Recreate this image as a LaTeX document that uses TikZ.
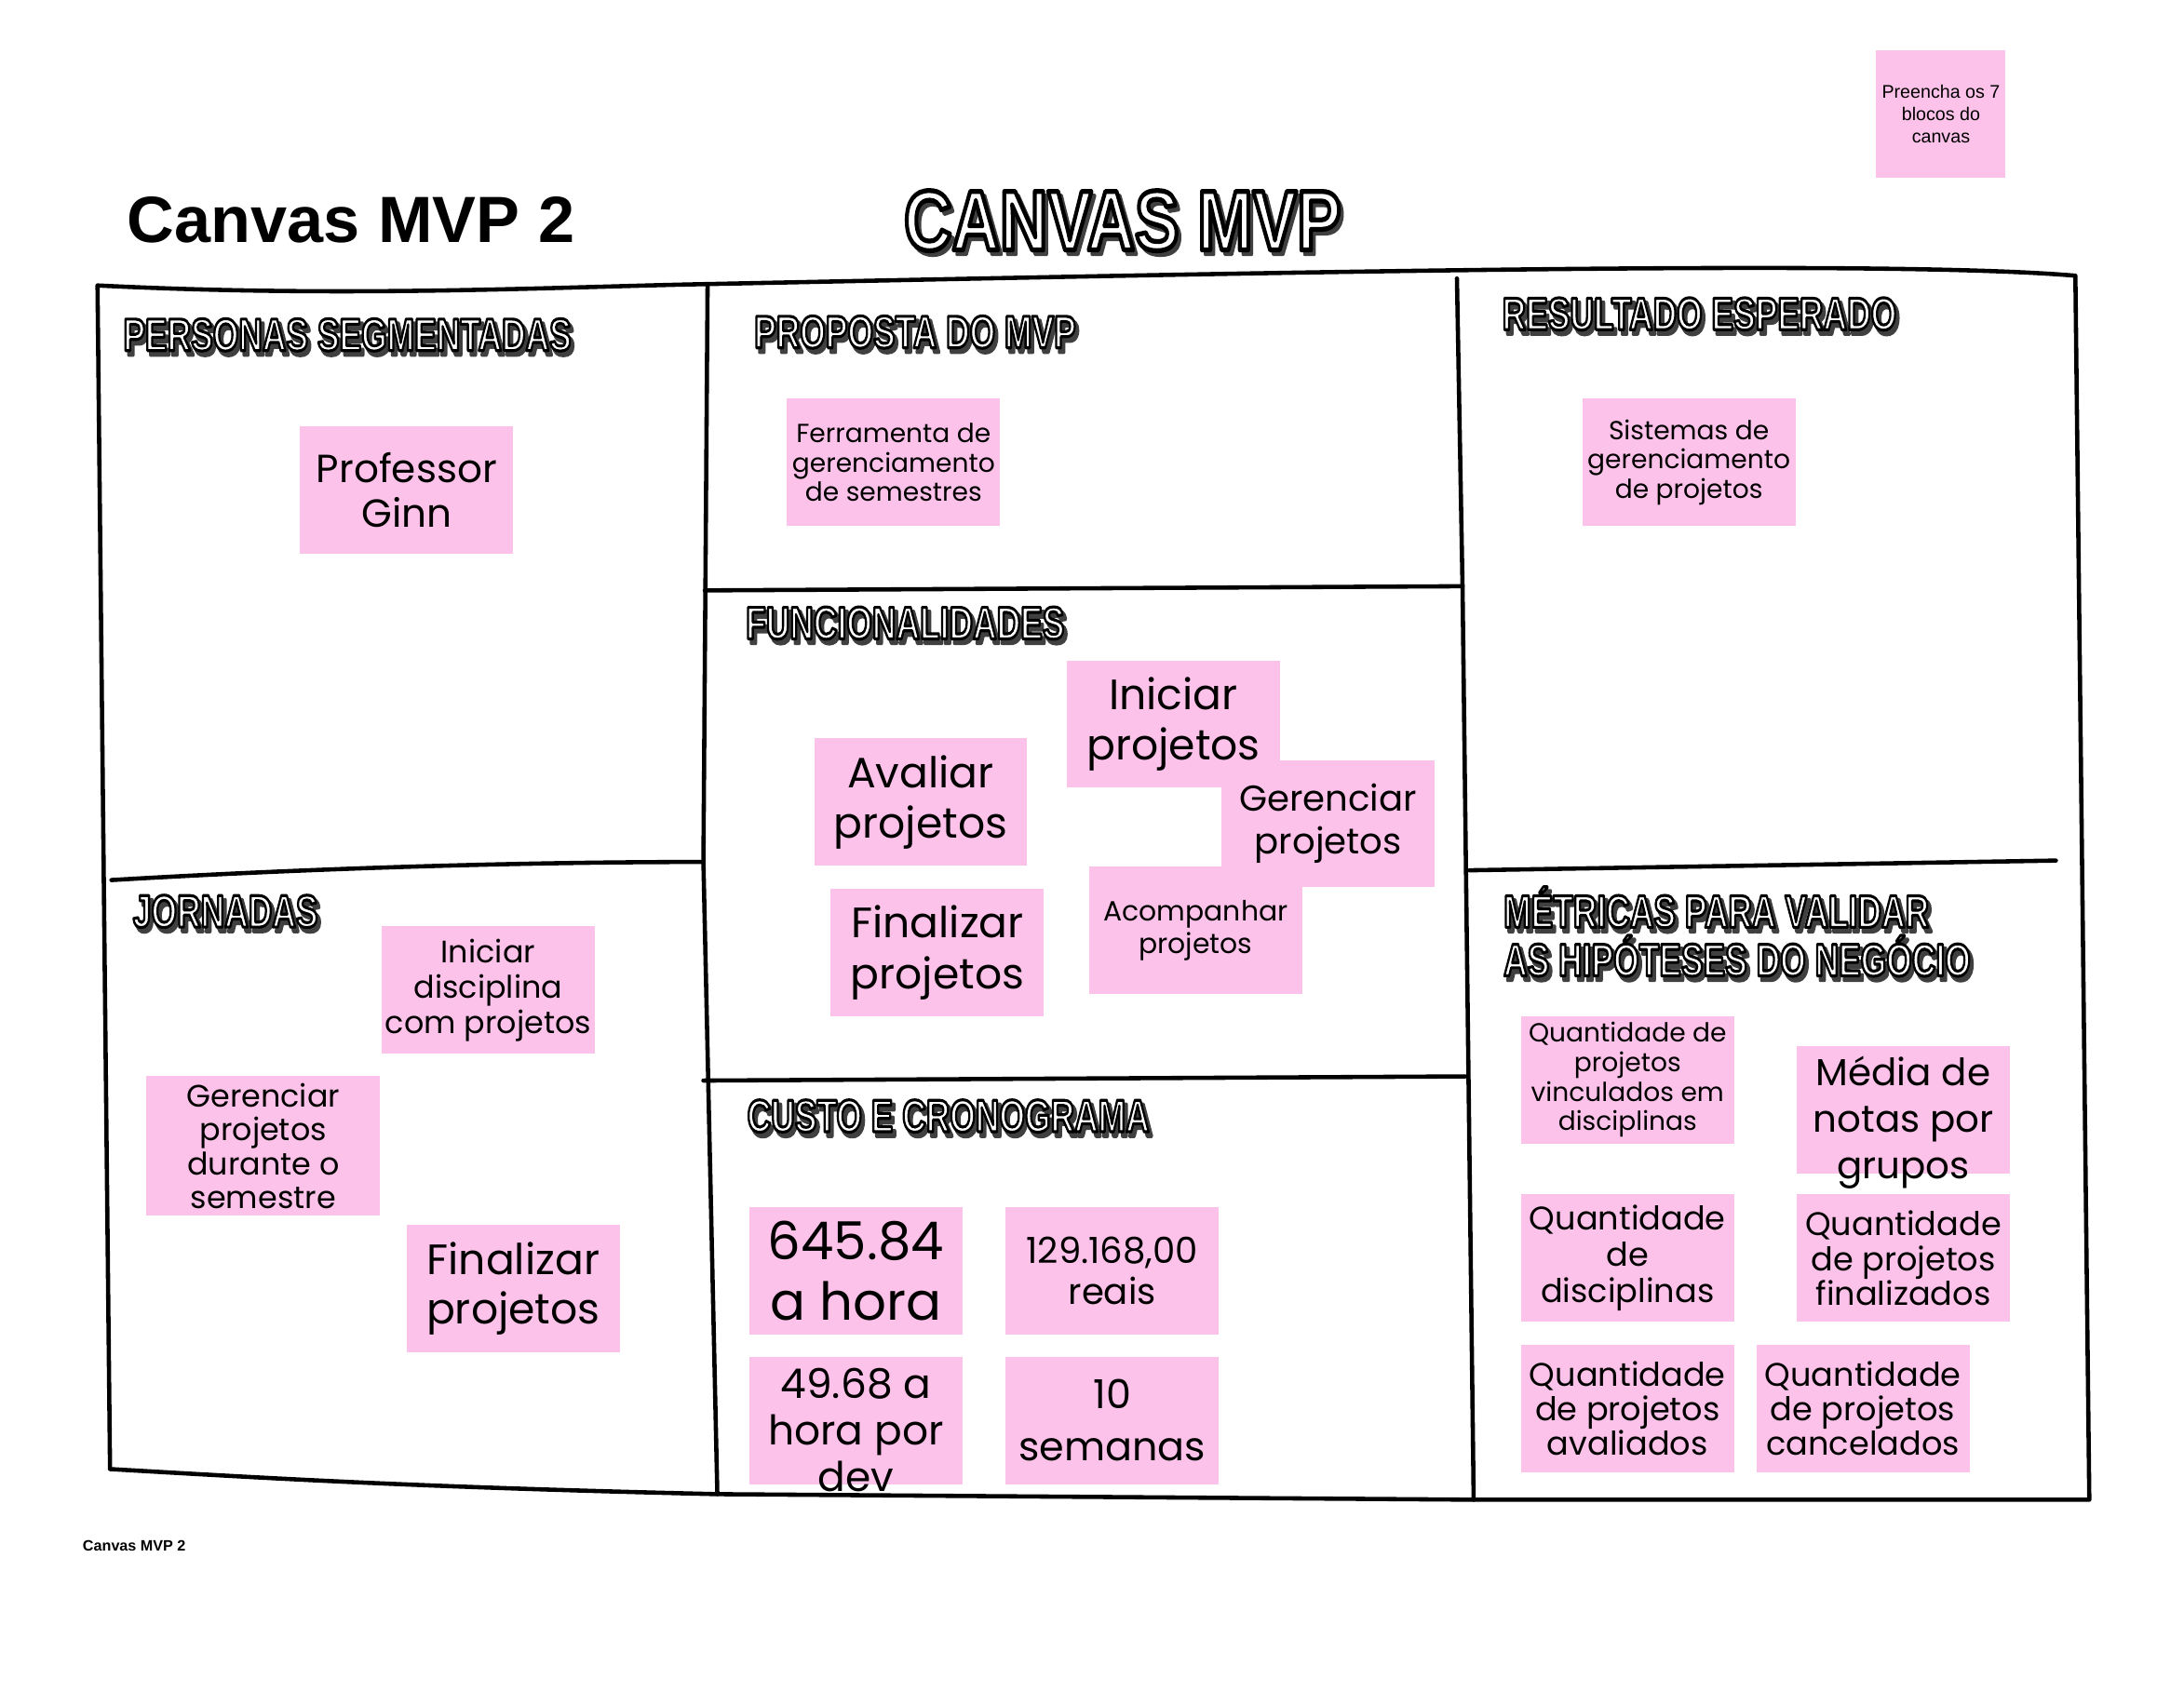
\documentclass[tikz,border=0pt]{standalone}
\usepackage{fontspec}
\setmainfont{Liberation Sans}
\newfontfamily\notefont{Poppins}
\definecolor{notepink}{HTML}{FDC2E9}
\newcommand{\hdw}{0.9}
\newcommand{\hds}{1.3pt}
\newcommand{\hd}[2][.72]{\scalebox{#1}[1]{\rlap{\kern\hds\raisebox{-\hds}{\textcolor{black!75}{\special{pdf:literal direct 2 Tr 1 j 1.2 w}#2\special{pdf:literal direct 0 Tr 0 j}}}}\textcolor{white}{\special{pdf:literal direct 2 Tr 1 j \hdw\space w 0 G}#2\special{pdf:literal direct 0 Tr 0 j}}}}
\begin{document}
\begin{tikzpicture}[x=0.014962cm, y=-0.014962cm,
  note/.style 2 args={fill=notepink, minimum width=2.29cm, minimum height=1.37cm, inner sep=1pt, align=center, font=\notefont\fontsize{#1}{#2}\selectfont},
  notetext/.style 2 args={align=center, inner sep=0pt, font=\notefont\fontsize{#1}{#2}\selectfont},
  head/.style={anchor=west, inner sep=0pt, font=\fontsize{14}{12.35}\selectfont\bfseries},
  frame/.style={line width=1.3pt, line cap=round, line join=round}]
\useasboundingbox[fill=white] (0,0) rectangle (1568,1215.1);
\node[anchor=west, inner sep=0pt, font=\fontsize{20}{22}\selectfont\bfseries] (title) at (91,158) {Canvas MVP 2};
\node[inner sep=0pt, font=\fontsize{26}{28}\selectfont\bfseries] (bigtitle) at (806,160) {\def\hdw{1.5}\hd[.78]{CANVAS MVP}};
\node[note={5.6}{6.9}, minimum width=1.39cm, font=\fontsize{5.6}{6.9}\selectfont] (hint) at (1393.5,82) {Preencha os 7\\blocos do\\canvas};
\coordinate (tl) at (70,205);
\coordinate (tm1) at (508,204);
\coordinate (tm2) at (1046,200);
\coordinate (tr) at (1490,198);
\coordinate (bl) at (79,1055);
\coordinate (bm1) at (515,1073);
\coordinate (bm2) at (1058,1077);
\coordinate (br) at (1500,1077);
\coordinate (ml) at (80,632);
\coordinate (mm) at (505,619);
\coordinate (c1) at (506,424);
\coordinate (c2) at (1050,421);
\coordinate (c3) at (505,776);
\coordinate (c4) at (1052,773);
\coordinate (r1) at (1055,625);
\coordinate (r2) at (1476,618);
\draw[frame] (tl) .. controls (250,214) and (400,206) .. (tm1) .. controls (900,196) and (1350,186) .. (tr) -- (br) -- (bm2) -- (bm1) .. controls (300,1068) and (200,1062) .. (bl) -- cycle;
\draw[frame] (tm1) -- (mm) -- (bm1);
\draw[frame] (tm2) -- (c2) -- (bm2);
\draw[frame] (ml) .. controls (250,622) and (400,619) .. (mm);
\draw[frame] (c1) -- (c2);
\draw[frame] (c3) -- (c4);
\draw[frame] (r1) -- (r2);
\node[head] (hPersonas) at (88,242) {\hd{PERSONAS SEGMENTADAS}};
\node[head] (hProposta) at (541,240) {\hd{PROPOSTA DO MVP}};
\node[head] (hResultado) at (1078,227) {\hd{RESULTADO ESPERADO}};
\node[head] (hFuncoes) at (535,449) {\hd{FUNCIONALIDADES}};
\node[head] (hJornadas) at (95,656) {\hd{JORNADAS}};
\node[head] (hCusto) at (536,803) {\hd{CUSTO E CRONOGRAMA}};
\node[head, align=left] (hMetricas) at (1079,670.5) {\hd{MÉTRICAS PARA VALIDAR}\\\hd{AS HIPÓTESES DO NEGÓCIO}};
\node[note={12}{13.8}] (persona) at (292,352) {Professor\\Ginn};
\node[note={8}{9}] (proposta) at (641.5,332) {Ferramenta de\\gerenciamento\\de semestres};
\node[note={8}{9}] (resultado) at (1212.5,332) {Sistemas de\\gerenciamento\\de projetos};
\node[note={13}{15.5}] (fIniciar) at (842.5,520) {Iniciar\\projetos};
\node[note={13}{15.5}] (fAvaliar) at (661,576) {Avaliar\\projetos};
\node[note={11}{13}] (fGerenciar) at (953.5,591.5) {Gerenciar\\projetos};
\node[note={13}{15.5}] (fFinalizar) at (673,684) {Finalizar\\projetos};
\node[note={8.5}{10}] (fAcomp) at (858.5,668) {Acompanhar\\projetos};
\node[note={9.5}{10.8}] (jIniciar) at (350.5,711) {Iniciar\\disciplina\\com projetos};
\node[note={9.5}{10.3}, minimum width=2.51cm, minimum height=1.5cm] (jGerenciar) at (189,823) {Gerenciar\\projetos\\durante o\\semestre};
\node[note={13}{15}] (jFinalizar) at (368.5,925.5) {Finalizar\\projetos};
\node[note={16}{18.5}] (cHora) at (614.5,912.5) {645.84\\a hora};
\node[note={11}{12.5}] (cTotal) at (798.5,912.5) {129.168,00\\reais};
\node[note={12.5}{14.2}] (cDev) at (614.5,1020) {};
\node[notetext={12.5}{14.2}] (cDevText) at (614.5,1027) {49.68 a\\hora por\\dev};
\node[note={12.2}{15.8}] (cSemanas) at (798.5,1020) {10\\semanas};
\node[note={8}{9}] (mVinc) at (1168.5,775.5) {Quantidade de\\projetos\\vinculados em\\disciplinas};
\node[note={11.5}{14.2}] (mMedia) at (1366.5,797) {};
\node[notetext={11.5}{14.2}] (mMediaText) at (1366.5,806) {Média de\\notas por\\grupos};
\node[note={10}{11}] (mDisc) at (1168.5,903.5) {Quantidade\\de\\disciplinas};
\node[note={10}{10.6}] (mFinal) at (1366.5,903.5) {Quantidade\\de projetos\\finalizados};
\node[note={10}{10.6}] (mAval) at (1168.5,1011.5) {Quantidade\\de projetos\\avaliados};
\node[note={10}{10.6}] (mCanc) at (1337.5,1011.5) {Quantidade\\de projetos\\cancelados};
\node[anchor=west, inner sep=0pt, font=\fontsize{4.6}{5}\selectfont\bfseries] (footer) at (59,1110) {Canvas MVP 2};
\end{tikzpicture}
\end{document}
